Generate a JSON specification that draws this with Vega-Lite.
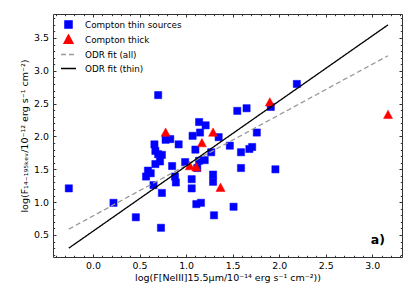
{
  "$schema": "https://vega.github.io/schema/vega-lite/v6.json",
  "width": 349,
  "height": 243,
  "autosize": "none",
  "padding": {"left": 53, "top": 14, "right": 13, "bottom": 51},
  "config": {"view": {"stroke": "#333333", "strokeWidth": 1}, "font": "DejaVu Sans"},
  "datasets": {
    "points": [
      {"x": -0.26, "y": 1.21, "series": "Compton thin sources"},
      {"x": 0.22, "y": 0.99, "series": "Compton thin sources"},
      {"x": 0.46, "y": 0.77, "series": "Compton thin sources"},
      {"x": 0.73, "y": 0.61, "series": "Compton thin sources"},
      {"x": 0.70, "y": 2.63, "series": "Compton thin sources"},
      {"x": 0.78, "y": 1.95, "series": "Compton thin sources"},
      {"x": 0.83, "y": 1.96, "series": "Compton thin sources"},
      {"x": 0.92, "y": 1.88, "series": "Compton thin sources"},
      {"x": 0.66, "y": 1.88, "series": "Compton thin sources"},
      {"x": 0.67, "y": 1.78, "series": "Compton thin sources"},
      {"x": 0.70, "y": 1.73, "series": "Compton thin sources"},
      {"x": 0.74, "y": 1.72, "series": "Compton thin sources"},
      {"x": 0.72, "y": 1.62, "series": "Compton thin sources"},
      {"x": 0.67, "y": 1.58, "series": "Compton thin sources"},
      {"x": 0.85, "y": 1.55, "series": "Compton thin sources"},
      {"x": 0.59, "y": 1.48, "series": "Compton thin sources"},
      {"x": 0.62, "y": 1.44, "series": "Compton thin sources"},
      {"x": 0.57, "y": 1.39, "series": "Compton thin sources"},
      {"x": 0.88, "y": 1.39, "series": "Compton thin sources"},
      {"x": 0.89, "y": 1.30, "series": "Compton thin sources"},
      {"x": 0.65, "y": 1.26, "series": "Compton thin sources"},
      {"x": 0.74, "y": 1.14, "series": "Compton thin sources"},
      {"x": 2.19, "y": 2.80, "series": "Compton thin sources"},
      {"x": 1.91, "y": 2.45, "series": "Compton thin sources"},
      {"x": 1.55, "y": 2.39, "series": "Compton thin sources"},
      {"x": 1.65, "y": 2.43, "series": "Compton thin sources"},
      {"x": 1.14, "y": 2.22, "series": "Compton thin sources"},
      {"x": 1.21, "y": 2.17, "series": "Compton thin sources"},
      {"x": 1.15, "y": 2.06, "series": "Compton thin sources"},
      {"x": 1.07, "y": 2.01, "series": "Compton thin sources"},
      {"x": 1.35, "y": 1.99, "series": "Compton thin sources"},
      {"x": 1.76, "y": 2.06, "series": "Compton thin sources"},
      {"x": 1.10, "y": 1.80, "series": "Compton thin sources"},
      {"x": 1.27, "y": 1.76, "series": "Compton thin sources"},
      {"x": 1.47, "y": 1.86, "series": "Compton thin sources"},
      {"x": 1.59, "y": 1.76, "series": "Compton thin sources"},
      {"x": 1.68, "y": 1.81, "series": "Compton thin sources"},
      {"x": 1.71, "y": 1.84, "series": "Compton thin sources"},
      {"x": 0.99, "y": 1.61, "series": "Compton thin sources"},
      {"x": 1.14, "y": 1.63, "series": "Compton thin sources"},
      {"x": 1.20, "y": 1.64, "series": "Compton thin sources"},
      {"x": 1.12, "y": 1.52, "series": "Compton thin sources"},
      {"x": 1.59, "y": 1.52, "series": "Compton thin sources"},
      {"x": 1.96, "y": 1.50, "series": "Compton thin sources"},
      {"x": 1.29, "y": 1.42, "series": "Compton thin sources"},
      {"x": 1.06, "y": 1.35, "series": "Compton thin sources"},
      {"x": 1.29, "y": 1.31, "series": "Compton thin sources"},
      {"x": 1.06, "y": 1.21, "series": "Compton thin sources"},
      {"x": 1.11, "y": 0.97, "series": "Compton thin sources"},
      {"x": 1.16, "y": 0.99, "series": "Compton thin sources"},
      {"x": 1.51, "y": 0.93, "series": "Compton thin sources"},
      {"x": 1.30, "y": 0.80, "series": "Compton thin sources"},
      {"x": 0.78, "y": 2.06, "series": "Compton thick"},
      {"x": 1.29, "y": 2.06, "series": "Compton thick"},
      {"x": 1.17, "y": 1.90, "series": "Compton thick"},
      {"x": 1.04, "y": 1.55, "series": "Compton thick"},
      {"x": 1.11, "y": 1.53, "series": "Compton thick"},
      {"x": 1.37, "y": 1.22, "series": "Compton thick"},
      {"x": 1.90, "y": 2.52, "series": "Compton thick"},
      {"x": 3.17, "y": 2.33, "series": "Compton thick"}
    ],
    "fits": [
      {"x": -0.26, "y": 0.59, "series": "ODR fit (all)"},
      {"x": 3.17, "y": 3.23, "series": "ODR fit (all)"},
      {"x": -0.26, "y": 0.30, "series": "ODR fit (thin)"},
      {"x": 3.17, "y": 3.70, "series": "ODR fit (thin)"}
    ],
    "note": [
      {"label": "a)"}
    ]
  },
  "layer": [
    {
      "data": {"name": "points"},
      "transform": [{"filter": "datum.series === 'Compton thin sources'"}],
      "mark": {"type": "point", "filled": true, "size": 225, "strokeWidth": 0.5, "opacity": 1},
      "encoding": {
        "x": {"field": "x", "type": "quantitative", "scale": {"domain": [-0.43, 3.32], "nice": false, "zero": false},
          "axis": {"orient": "top", "values": [0, 0.5, 1, 1.5, 2, 2.5, 3], "labels": false, "title": null, "domain": false, "grid": false, "tickSize": -3, "tickColor": "#333333"}},
        "y": {"field": "y", "type": "quantitative", "scale": {"domain": [0.165, 3.865], "nice": false, "zero": false},
          "axis": {"orient": "right", "values": [0.5, 1, 1.5, 2, 2.5, 3, 3.5], "labels": false, "title": null, "domain": false, "grid": false, "tickSize": -3, "tickColor": "#333333"}},
        "fill": {"field": "series", "type": "nominal",
          "scale": {"domain": ["Compton thin sources", "Compton thick", "ODR fit (all)", "ODR fit (thin)"], "range": ["#0000ff", "#ff0000", "#999999", "#000000"]},
          "legend": {
            "orient": "none", "legendX": 7, "legendY": 2, "title": null, "padding": 0,
            "symbolSize": 225, "labelFontSize": 8.8, "labelFont": "DejaVu Sans", "labelColor": "#000000",
            "labelOffset": 8, "rowPadding": -2.5, "symbolStrokeWidth": 1.3}},
        "stroke": {"field": "series", "type": "nominal",
          "scale": {"domain": ["Compton thin sources", "Compton thick", "ODR fit (all)", "ODR fit (thin)"], "range": ["#0000ff", "#ff0000", "#999999", "#000000"]}},
        "shape": {"field": "series", "type": "nominal",
          "scale": {"domain": ["Compton thin sources", "Compton thick", "ODR fit (all)", "ODR fit (thin)"], "range": ["M-0.48,-0.48H0.48V0.48H-0.48Z", "M0,-0.62L0.6,0.5L-0.6,0.5Z", "M-1,0H1", "M-1,0H1"]}}
      }
    },
    {
      "data": {"name": "points"},
      "transform": [{"filter": "datum.series === 'Compton thick'"}],
      "mark": {"type": "point", "filled": true, "size": 225, "strokeWidth": 0.5, "opacity": 1},
      "encoding": {
        "x": {"field": "x", "type": "quantitative", "scale": {"domain": [-0.43, 3.32], "nice": false, "zero": false},
          "axis": {"orient": "bottom", "values": [-0.4, -0.3, -0.2, -0.1, 0.1, 0.2, 0.3, 0.4, 0.6, 0.7, 0.8, 0.9, 1.1, 1.2, 1.3, 1.4, 1.6, 1.7, 1.8, 1.9, 2.1, 2.2, 2.3, 2.4, 2.6, 2.7, 2.8, 2.9, 3.1, 3.2, 3.3], "labels": false, "title": null, "domain": false, "grid": false, "tickSize": -1.7, "tickColor": "#333333"}},
        "y": {"field": "y", "type": "quantitative", "scale": {"domain": [0.165, 3.865], "nice": false, "zero": false},
          "axis": {"orient": "left", "values": [0.2, 0.3, 0.4, 0.6, 0.7, 0.8, 0.9, 1.1, 1.2, 1.3, 1.4, 1.6, 1.7, 1.8, 1.9, 2.1, 2.2, 2.3, 2.4, 2.6, 2.7, 2.8, 2.9, 3.1, 3.2, 3.3, 3.4, 3.6, 3.7, 3.8], "labels": false, "title": null, "domain": false, "grid": false, "tickSize": -1.7, "tickColor": "#333333"}},
        "fill": {"field": "series", "type": "nominal"},
        "stroke": {"field": "series", "type": "nominal"},
        "shape": {"field": "series", "type": "nominal"}
      }
    },
    {
      "data": {"name": "fits"},
      "mark": {"type": "line", "strokeWidth": 1.3},
      "encoding": {
        "x": {"field": "x", "type": "quantitative", "scale": {"domain": [-0.43, 3.32], "nice": false, "zero": false},
          "axis": {"orient": "bottom", "values": [0, 0.5, 1, 1.5, 2, 2.5, 3], "format": ".1f", "labelFontSize": 9.4, "labelFont": "DejaVu Sans", "labelColor": "#000000", "labelPadding": 7, "domain": false, "grid": false, "tickSize": -3, "tickColor": "#333333",
            "title": "log(F[NeIII]15.5μm/10⁻¹⁴ erg s⁻¹ cm⁻²))", "titleFontSize": 9.5, "titleFont": "DejaVu Sans", "titleFontWeight": "normal", "titleColor": "#000000", "titlePadding": 3}},
        "y": {"field": "y", "type": "quantitative", "scale": {"domain": [0.165, 3.865], "nice": false, "zero": false},
          "axis": {"orient": "left", "values": [0.5, 1, 1.5, 2, 2.5, 3, 3.5], "format": ".1f", "labelFontSize": 9.4, "labelFont": "DejaVu Sans", "labelColor": "#000000", "labelPadding": 7.5, "domain": false, "grid": false, "tickSize": -3, "tickColor": "#333333",
            "title": "log(F₁₄₋₁₉₅ₖₑᵥ/10⁻¹² erg s⁻¹ cm⁻²)", "titleFontSize": 9.5, "titleFont": "DejaVu Sans", "titleFontWeight": "normal", "titleColor": "#000000", "titlePadding": 4}},
        "stroke": {"field": "series", "type": "nominal"},
        "strokeDash": {"field": "series", "type": "nominal", "scale": {"domain": ["Compton thin sources", "Compton thick", "ODR fit (all)", "ODR fit (thin)"], "range": [[1, 0], [1, 0], [5, 3], [1, 0]]}}
      }
    },
    {
      "data": {"name": "note"},
      "mark": {"type": "text", "fontSize": 12.5, "fontWeight": "bold", "font": "DejaVu Sans", "color": "#000000"},
      "encoding": {
        "text": {"field": "label"},
        "x": {"datum": 3.06, "type": "quantitative", "scale": {"domain": [-0.43, 3.32], "nice": false, "zero": false},
          "axis": {"orient": "top", "values": [-0.4, -0.3, -0.2, -0.1, 0.1, 0.2, 0.3, 0.4, 0.6, 0.7, 0.8, 0.9, 1.1, 1.2, 1.3, 1.4, 1.6, 1.7, 1.8, 1.9, 2.1, 2.2, 2.3, 2.4, 2.6, 2.7, 2.8, 2.9, 3.1, 3.2, 3.3], "labels": false, "title": null, "domain": false, "grid": false, "tickSize": -1.7, "tickColor": "#333333"}},
        "y": {"datum": 0.43, "type": "quantitative", "scale": {"domain": [0.165, 3.865], "nice": false, "zero": false},
          "axis": {"orient": "right", "values": [0.2, 0.3, 0.4, 0.6, 0.7, 0.8, 0.9, 1.1, 1.2, 1.3, 1.4, 1.6, 1.7, 1.8, 1.9, 2.1, 2.2, 2.3, 2.4, 2.6, 2.7, 2.8, 2.9, 3.1, 3.2, 3.3, 3.4, 3.6, 3.7, 3.8], "labels": false, "title": null, "domain": false, "grid": false, "tickSize": -1.7, "tickColor": "#333333"}}
      }
    }
  ],
  "resolve": {"scale": {"x": "shared", "y": "shared"}, "axis": {"x": "independent", "y": "independent"}}
}
